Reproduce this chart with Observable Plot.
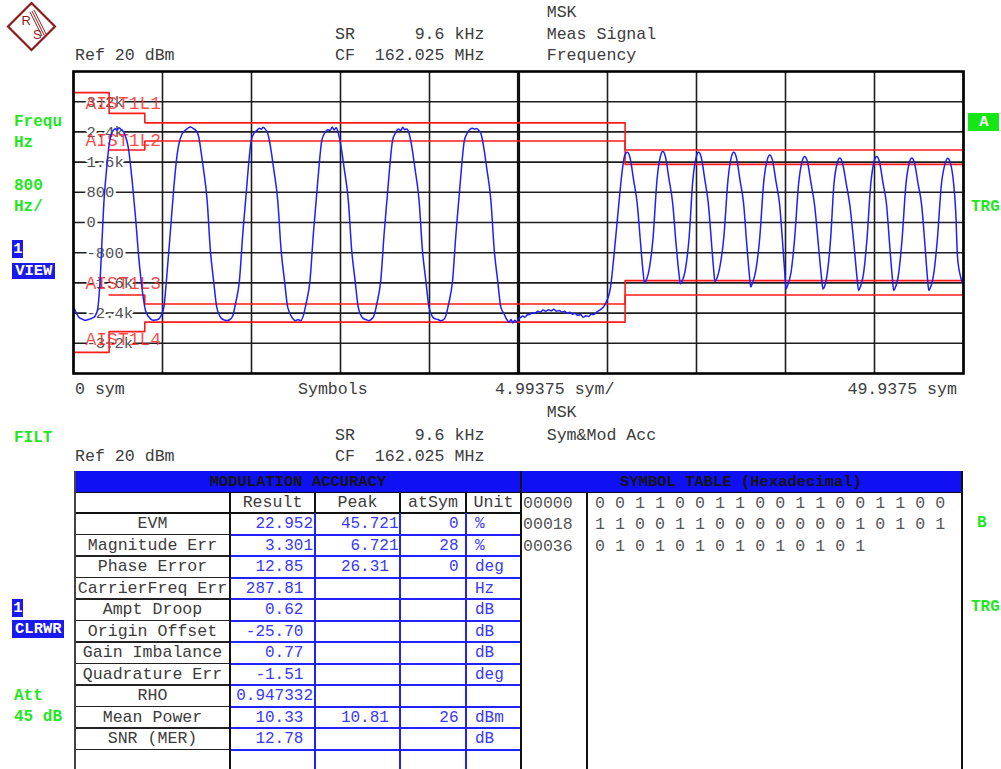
<!DOCTYPE html>
<html><head><meta charset="utf-8">
<script src="https://cdn.jsdelivr.net/npm/d3@7"></script>
<script src="https://cdn.jsdelivr.net/npm/@observablehq/plot@0.6"></script>
<style>
html,body{margin:0;padding:0;background:#fff;}
#page{position:relative;width:1001px;height:769px;overflow:hidden;background:#fff;font-family:"Liberation Mono","DejaVu Sans Mono",monospace;}
#page svg.plot{position:absolute;left:0;top:0;}
.t{position:absolute;white-space:pre;line-height:16px;font-size:16.6px;color:#3c3c3c;}
.g{color:#22e622;font-weight:bold;font-size:16px;}
.v{color:#3838ff;font-size:16px;}
.bx{position:absolute;background:#1a1aee;color:#fff;font-weight:bold;font-size:15.5px;line-height:18px;white-space:pre;}
.ln{position:absolute;}
</style></head><body><div id="page"></div>
<script>
// ---------- data ----------
const xTicks = [0, 4.99375, 9.9875, 14.98125, 19.975, 24.96875, 29.9625, 34.95625, 39.95, 44.94375, 49.9375];
const yTicks = [3200, 2400, 1600, 800, 0, -800, -1600, -2400, -3200];
const yTickLabels = ["3.2k", "2.4k", "1.6k", "800", "0", "-800", "-1.6k", "-2.4k", "-3.2k"];

// limit lines (Hz), step-after at these symbol positions
const limitSym = [0, 2, 4, 30.95, 49.9375];
const limitL1 = [3440, 2890, 2640, 1920, 1920];
const limitL2 = [NaN, 1920, 2160, 1540, 1540];
const limitL3 = [NaN, -1920, -2160, -1540, -1540];
const limitL4 = [-3440, -2890, -2640, -1920, -1920];
const limitNames = ["AIST1L1", "AIST1L2", "AIST1L3", "AIST1L4"];

// measured frequency trace: [symbol, Hz]
const trace = [
[0,-2240],[0.30,-2508],[0.50,-2560],[0.67,-2596],[0.82,-2570],[0.95,-2552],[1.10,-2520],[1.23,-2464],[1.36,-2286],[1.48,-1624],[1.61,-389],[1.70,495],[1.85,1377],[1.98,1994],[2.17,2392],[2.36,2482],[2.45,2440],[2.54,2509],[2.66,2470],[2.82,2392],[3.10,1907],[3.29,1113],[3.48,140],[3.66,-919],[3.86,-1801],[4.04,-2331],[4.32,-2552],[4.50,-2590],[4.70,-2578],[4.92,-2464],[5.07,-2244],[5.26,-1271],[5.44,-212],[5.63,935],[5.82,1820],[6.10,2350],[6.38,2482],[6.55,2530],[6.75,2482],[6.90,2420],[7.03,2260],[7.15,1900],[7.28,1460],[7.50,580],[7.68,-740],[7.86,-1540],[8.04,-2250],[8.30,-2540],[8.50,-2590],
[8.64,-2596],[8.80,-2560],[8.94,-2470],[9.09,-2150],[9.31,-1540],[9.50,-290],[9.69,770],[9.83,1560],[9.97,2170],[10.15,2380],[10.30,2440],[10.42,2500],[10.53,2470],[10.64,2520],[10.78,2460],[10.90,2360],[11.09,1900],[11.22,1460],[11.46,580],[11.65,-740],[11.84,-1540],[12.02,-2250],[12.30,-2540],
[12.45,-2600],[12.60,-2570],[12.75,-2600],[12.90,-2460],[13.05,-2150],[13.27,-1540],[13.46,-290],[13.65,770],[13.79,1560],[13.93,2170],[14.11,2380],[14.25,2460],[14.40,2440],[14.52,2530],[14.62,2450],[14.74,2510],[14.86,2360],[15.05,1900],[15.18,1460],[15.42,580],[15.61,-740],[15.80,-1540],[15.98,-2250],[16.25,-2540],
[16.45,-2580],[16.57,-2600],[16.72,-2560],[16.87,-2460],[17.02,-2150],[17.24,-1540],[17.43,-290],[17.62,770],[17.76,1560],[17.90,2170],[18.08,2380],[18.22,2480],[18.36,2440],[18.48,2520],[18.58,2460],[18.70,2480],[18.83,2360],[19.02,1900],[19.15,1460],[19.39,580],[19.58,-740],[19.77,-1540],[19.95,-2250],[20.23,-2540],
[20.45,-2570],[20.60,-2600],[20.75,-2580],[20.90,-2460],[21.05,-2150],[21.27,-1540],[21.46,-290],[21.65,770],[21.79,1560],[21.93,2170],[22.11,2380],[22.25,2470],[22.38,2500],[22.50,2470],[22.62,2490],[22.74,2440],[22.86,2360],[23.05,1900],[23.18,1460],[23.42,580],[23.61,-740],[23.80,-1540],[23.98,-2250],[24.15,-2410],[24.30,-2560],
[24.43,-2640],[24.55,-2570],[24.65,-2660],[24.75,-2590],[24.85,-2640],[24.95,-2560],[25.08,-2520],[25.20,-2480],[25.32,-2510],[25.45,-2450],[25.60,-2430],[25.75,-2390],[25.90,-2400],[26.05,-2350],[26.20,-2370],[26.35,-2320],[26.50,-2350],[26.65,-2310],[26.80,-2340],[26.95,-2300],[27.10,-2350],[27.25,-2330],[27.40,-2370],[27.55,-2350],[27.70,-2400],[27.85,-2380],[28.00,-2430],[28.15,-2410],[28.30,-2460],[28.45,-2440],[28.60,-2510],[28.75,-2470],[28.90,-2490],[29.05,-2430],[29.20,-2440],[29.35,-2370],[29.50,-2330],[29.62,-2290],[29.75,-2230],[29.85,-2150],
[30.13,-1720],[30.42,-400],[30.60,500],[30.79,1380],[30.92,1760],[31.07,1860],
[31.22,1730],[31.43,1115],[31.63,500],[31.82,-560],[31.95,-1270],[32.04,-1590],[32.10,-1560],
[32.32,-1190],[32.52,-400],[32.74,1130],[32.93,1750],[33.06,1880],
[33.21,1750],[33.42,1130],[33.62,510],[33.81,-570],[33.96,-1300],[34.06,-1625],[34.12,-1580],
[34.34,-1220],[34.54,-410],[34.75,1115],[34.94,1730],[35.07,1860],
[35.22,1730],[35.43,1115],[35.62,500],[35.80,-550],[35.92,-1250],[35.99,-1565],[36.05,-1530],
[36.27,-1170],[36.49,-390],[36.72,1115],[36.91,1730],[37.04,1860],
[37.19,1730],[37.40,1115],[37.60,500],[37.78,-600],[37.92,-1370],[38.00,-1710],[38.06,-1650],
[38.28,-1280],[38.50,-430],[38.73,1075],[38.93,1665],[39.06,1790],
[39.21,1665],[39.42,1075],[39.62,480],[39.80,-615],[39.92,-1400],[39.98,-1755],[40.04,-1700],
[40.26,-1320],[40.46,-440],[40.69,1050],[40.89,1630],[41.02,1750],
[41.17,1630],[41.38,1050],[41.58,470],[41.80,-615],[41.96,-1410],[42.05,-1760],[42.12,-1720],
[42.30,-1320],[42.48,-440],[42.67,1025],[42.86,1590],[42.99,1710],
[43.14,1590],[43.36,1025],[43.56,460],[43.80,-630],[43.96,-1440],[44.05,-1800],[44.11,-1750],
[44.33,-1350],[44.52,-450],[44.74,1050],[44.93,1630],[45.06,1750],
[45.21,1630],[45.42,1050],[45.62,470],[45.80,-630],[45.94,-1440],[46.02,-1800],[46.08,-1760],
[46.30,-1350],[46.49,-450],[46.71,1025],[46.90,1590],[47.03,1710],
[47.18,1590],[47.39,1025],[47.59,460],[47.78,-630],[47.91,-1440],[47.99,-1800],[48.05,-1760],
[48.27,-1350],[48.47,-450],[48.70,1020],[48.92,1580],[49.05,1700],
[49.20,1580],[49.38,1050],[49.50,300],[49.60,-900],[49.78,-1450],[49.90,-1620]
];

// modulation accuracy table
const modHeader = ["Result", "Peak", "atSym", "Unit"];
const modLabels = ["EVM","Magnitude Err","Phase Error","CarrierFreq Err","Ampt Droop","Origin Offset","Gain Imbalance","Quadrature Err","RHO","Mean Power","SNR (MER)",""];
const modResult = ["22.952","3.301","12.85","287.81","0.62","-25.70","0.77","-1.51","0.947332","10.33","12.78",""];
const modPeak   = ["45.721","6.721","26.31","","","","","","","10.81","",""];
const modAtSym  = ["0","28","0","","","","","","","26","",""];
const modUnit   = ["%","%","deg","Hz","dB","dB","dB","deg","","dBm","dB",""];

// symbol table
const symAddr = ["00000", "00018", "00036"];
const symBits = [
  [0,0,1,1,0,0,1,1,0,0,1,1,0,0,1,1,0,0],
  [1,1,0,0,1,1,0,0,0,0,0,0,0,1,0,1,0,1],
  [0,1,0,1,0,1,0,1,0,1,0,1,0,1]
];

// ---------- page helpers ----------
const page = document.getElementById("page");
function txt(s, x, cy, cls = "", align = "left", extra = {}) {
  const d = document.createElement("div");
  d.className = "t " + cls;
  d.textContent = s;
  d.style.top = (cy - 8) + "px";
  if (align === "left") d.style.left = x + "px";
  else if (align === "right") d.style.right = (1001 - x) + "px";
  else { d.style.left = x + "px"; d.style.transform = "translateX(-50%)"; }
  Object.assign(d.style, extra);
  page.appendChild(d);
  return d;
}
function box(s, x, y, w, h, bg = "#1a1aee", color = "#fff") {
  const d = document.createElement("div");
  d.className = "bx";
  d.textContent = s;
  Object.assign(d.style, {left: x + "px", top: y + "px", width: w + "px", height: h + "px",
    lineHeight: h + "px", background: bg, color, textAlign: "center"});
  page.appendChild(d);
  return d;
}
function ln(x, y, w, h, c) {
  const d = document.createElement("div");
  d.className = "ln";
  Object.assign(d.style, {left: x + "px", top: y + "px", width: w + "px", height: h + "px", background: c});
  page.appendChild(d);
}

// ---------- the chart ----------
const mono = "Liberation Mono, DejaVu Sans Mono, monospace";
const lim = (arr) => limitSym.map((s, i) => ({s, v: arr[i]}));
const chart = Plot.plot({
  width: 1001, height: 400,
  marginLeft: 73, marginRight: 38, marginTop: 71, marginBottom: 27,
  x: {domain: [0, 49.9375], axis: null},
  y: {domain: [-4000, 4000], axis: null},
  style: {background: "transparent", fontFamily: mono, overflow: "visible"},
  marks: [
    Plot.ruleY(yTicks, {stroke: "#1e1e1e", strokeWidth: 1.6}),
    Plot.ruleX(xTicks, {stroke: "#1e1e1e", strokeWidth: 1.6}),
    Plot.ruleX([xTicks[5]], {stroke: "#111", strokeWidth: 3.2}),
    Plot.text(yTicks, {x: 0, y: d => d, text: (d, i) => yTickLabels[i], dx: 13, textAnchor: "start",
      fill: "#505050", stroke: "white", strokeWidth: 5, fontSize: 15.5, fontFamily: mono}),
    Plot.line(lim(limitL1), {x: "s", y: "v", curve: "step-after", stroke: "#ff1a1a", strokeWidth: 1.6, clip: true}),
    Plot.line(lim(limitL2), {x: "s", y: "v", curve: "step-after", stroke: "#ff1a1a", strokeWidth: 1.6, clip: true}),
    Plot.line(lim(limitL3), {x: "s", y: "v", curve: "step-after", stroke: "#ff1a1a", strokeWidth: 1.6, clip: true}),
    Plot.line(lim(limitL4), {x: "s", y: "v", curve: "step-after", stroke: "#ff1a1a", strokeWidth: 1.6, clip: true}),
    Plot.text([limitNames[0]], {x: 0, y: limitL1[0], text: d => d, dx: 12, dy: 11, textAnchor: "start", fill: "#ff2a2a", fontSize: 18, fontFamily: mono, fillOpacity: 0.85}),
    Plot.text([limitNames[1]], {x: 0, y: limitL2[2], text: d => d, dx: 12, dy: -1, textAnchor: "start", fill: "#ff2a2a", fontSize: 18, fontFamily: mono, fillOpacity: 0.85}),
    Plot.text([limitNames[2]], {x: 0, y: limitL3[2], text: d => d, dx: 12, dy: -21, textAnchor: "start", fill: "#ff2a2a", fontSize: 18, fontFamily: mono, fillOpacity: 0.85}),
    Plot.text([limitNames[3]], {x: 0, y: limitL4[0], text: d => d, dx: 12, dy: -13, textAnchor: "start", fill: "#ff2a2a", fontSize: 18, fontFamily: mono, fillOpacity: 0.85}),
    Plot.line(trace, {x: d => d[0], y: d => d[1], stroke: "#1e1eff", strokeWidth: 1.5, curve: "monotone-x", clip: true}),
    Plot.frame({stroke: "#000", strokeWidth: 2.6})
  ]
});
page.appendChild(chart);

// ---------- logo ----------
page.insertAdjacentHTML("beforeend", `
<svg width="62" height="56" style="position:absolute;left:0;top:0">
 <g stroke="#8e1b1b" fill="none">
  <polygon points="31.5,3 55,26.5 31.5,50 8,26.5" stroke-width="2.2"/>
  <line x1="30" y1="12" x2="42" y2="36" stroke-width="1"/>
  <line x1="32" y1="11" x2="44" y2="35" stroke-width="1"/>
  <line x1="34" y1="10" x2="46" y2="34" stroke-width="1"/>
 </g>
 <text x="21.5" y="25" font-family="Liberation Sans, Arial" font-size="13" fill="#8e1b1b">R</text>
 <text x="33" y="39" font-family="Liberation Sans, Arial" font-size="13" fill="#8e1b1b">S</text>
</svg>`);

// ---------- header texts ----------
txt("MSK", 546.7, 13.3);
txt("SR      9.6 kHz", 335, 34.5);
txt("Meas Signal", 546.7, 35);
txt("Ref 20 dBm", 75, 55.5);
txt("CF  162.025 MHz", 335, 55.5);
txt("Frequency", 546.7, 56);

// left / right side annotations (upper screen)
txt("Frequ", 14, 122.3, "g");
txt("Hz", 14, 142.7, "g");
txt("800", 14, 185.7, "g");
txt("Hz/", 14, 206.7, "g");
box("1", 12.3, 240, 11, 18.3);
box("VIEW", 12.3, 262.7, 43, 16.6);
box("A", 968.3, 112.7, 31, 18.3, "#16e616", "#fff");
txt("TRG", 971, 206.7, "g");

// x axis annotations
txt("0 sym", 75, 390);
txt("Symbols", 298, 390);
txt("4.99375 sym/", 495, 390);
txt("49.9375 sym", 957, 390, "", "right");

// lower screen header
txt("MSK", 546.7, 413);
txt("FILT", 14, 438, "g");
txt("SR      9.6 kHz", 335, 436);
txt("Sym&Mod Acc", 546.7, 436);
txt("Ref 20 dBm", 75, 457);
txt("CF  162.025 MHz", 335, 457);

// lower side annotations
box("1", 12.3, 598.5, 11, 18.3);
box("CLRWR", 12.3, 620, 52, 18);
txt("Att", 14, 696, "g");
txt("45 dB", 14, 717, "g");
txt("B", 981.7, 522.7, "g", "center");
txt("TRG", 971, 607, "g");

// ---------- modulation accuracy table ----------
const colX = [75, 230, 315, 400, 466, 521];
const hdrTop = 492.5, rowTop = 513.3, rowH = 21.5;
const blue = "#2222ff";
ln(75, 471, 446, 21.5, "#1010f4");
ln(521, 471, 441, 21.5, "#1010f4");
txt("MODULATION ACCURACY", 298, 482, "", "center", {color: "#141414", fontSize: "15.5px", fontWeight: "bold"});
txt("SYMBOL TABLE (Hexadecimal)", 741, 482, "", "center", {color: "#141414", fontSize: "15.5px", fontWeight: "bold"});
ln(75, 491.8, 887, 1.6, "#111");
// header row
modHeader.forEach((h, i) => txt(h, (colX[i + 1] + colX[i + 2]) / 2, hdrTop + 10.5, "", "center"));
ln(75, rowTop - 1, 446, 1.6, "#111");
// body rows
modLabels.forEach((lab, k) => {
  const cy = rowTop + rowH * k + rowH / 2;
  if (lab) txt(lab, 152.5, cy, "", "center");
  const pad = s => (/\.\d\d$/.test(s) ? s + " " : s);
  if (modResult[k]) txt(pad(modResult[k]), 313, cy, "v", "right");
  if (modPeak[k]) txt(pad(modPeak[k]), 398.5, cy, "v", "right");
  if (modAtSym[k]) txt(modAtSym[k], 458.5, cy, "v", "right");
  if (modUnit[k]) txt(modUnit[k], 475, cy, "v");
  const yb = rowTop + rowH * (k + 1) - 1;
  ln(75, yb, 155, 1.6, "#222");
  ln(230, yb, 291, 2, blue);
});
// vertical lines
ln(74, 471, 2, 298, "#444");
ln(228.8, 492, 2.6, 277, "#111");
[315, 400, 466].forEach(x => {
  ln(x - 1, 492, 1.8, 21.5, "#111");
  ln(x - 1, 513, 2, 256, blue);
});
ln(520, 471, 2, 298, "#111");

// ---------- symbol table ----------
ln(585.8, 492, 2, 277, "#111");
ln(960.8, 471, 2.2, 298, "#111");
symAddr.forEach((a, k) => {
  const cy = 503.5 + 21.5 * k;
  txt(a, 523, cy, "", "left", {color: "#555"});
  txt(symBits[k].join(" "), 595, cy, "", "left", {color: "#555", letterSpacing: "0.05px"});
});
</script></body></html>
